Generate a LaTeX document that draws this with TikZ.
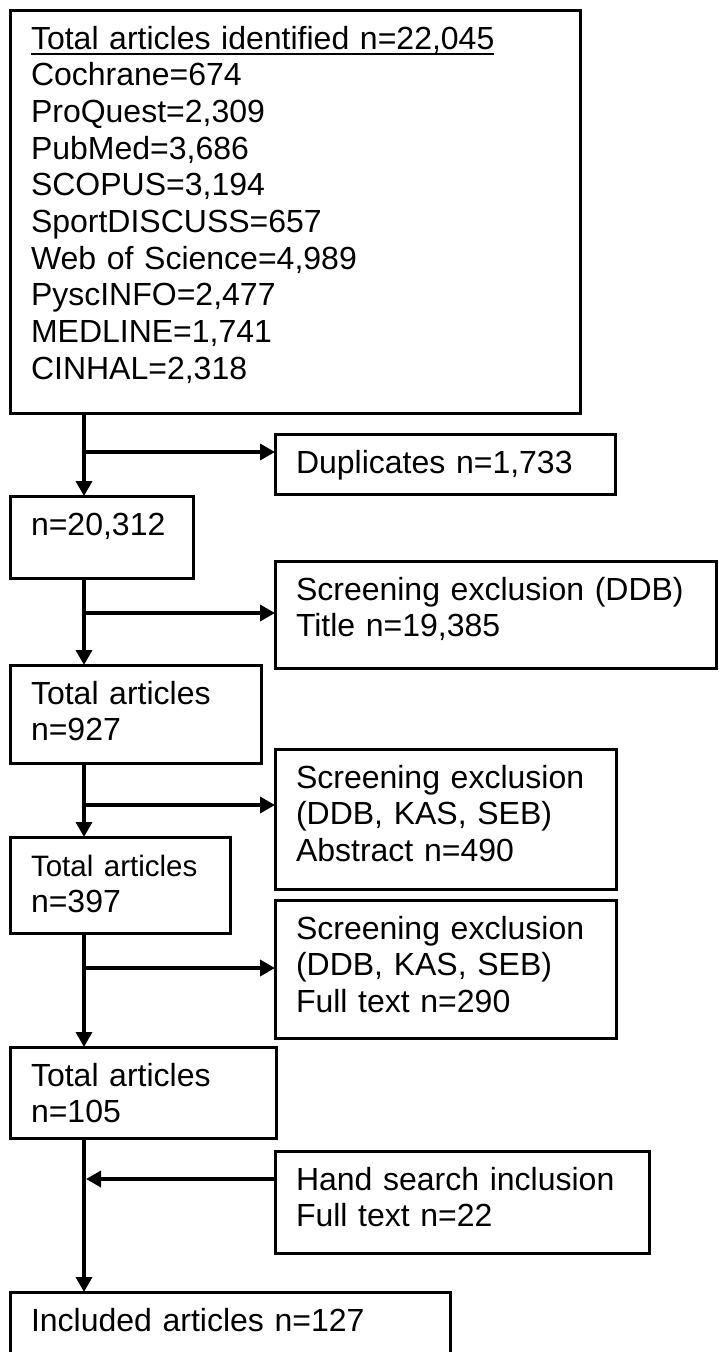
\documentclass[tikz,border=0pt]{standalone}
\usepackage{fontspec}
\setmainfont{Liberation Sans}
\usetikzlibrary{arrows.meta,calc}

\newcommand{\hdline}[1]{\setbox0=\hbox{#1}\rlap{\rule[-6pt]{\wd0}{2.5pt}}\box0}

\tikzset{
  box/.style={draw, line width=3pt, anchor=north west, inner xsep=21pt, inner ysep=0pt,
    outer sep=0pt, align=left, text height=39pt,
    font=\fontsize{32pt}{36.7pt}\selectfont},
  flow/.style={line width=3.5pt, -{Triangle[length=15pt,width=16pt]}}
}

\begin{document}
\begin{tikzpicture}[x=1pt,y=-1pt]

      \useasboundingbox (0,0) rectangle (719,1352);
      \clip (0,0) rectangle (719,1352);
      \fill[white] (0,0) rectangle (719,1352);

      \node[box, text width=528pt, text depth=364pt] (total) at (10,10)
        {\hdline{Total articles identified n=22,045}\\ Cochrane=674\\ ProQuest=2,309\\
         PubMed=3,686\\ SCOPUS=3,194\\ SportDISCUSS=657\\ Web of Science=4,989\\
         PyscINFO=2,477\\ MEDLINE=1,741\\ CINHAL=2,318};
      \node[box, text width=298pt, text depth=21pt] (dup) at (275,434) {Duplicates n=1,733};
      \node[box, text width=141pt, text depth=43pt] (n20) at (10,496) {n=20,312};
      \node[box, text width=399pt, text depth=68pt] (title) at (275,561)
        {Screening exclusion (DDB)\\ Title n=19,385};
      \node[box, text width=209pt, text depth=59pt] (n927) at (10,665) {Total articles\\ n=927};
      \node[box, text width=299pt, text depth=101pt] (abs) at (275,749)
        {Screening exclusion\\ (DDB, KAS, SEB)\\ Abstract n=490};
      \node[box, text width=178pt, text depth=57pt] (n397) at (10,837)
        {{\fontsize{29.5pt}{36.7pt}\selectfont Total articles}\\ n=397};
      \node[box, text width=299pt, text depth=99pt] (full) at (275,900)
        {Screening exclusion\\ (DDB, KAS, SEB)\\ Full text n=290};
      \node[box, text width=224pt, text depth=52pt] (n105) at (10,1047) {Total articles\\ n=105};
      \node[box, text width=332pt, text depth=63pt] (hand) at (275,1151)
        {Hand search inclusion\\ Full text n=22};
      \node[box, text width=398pt, text depth=41pt] (incl) at (10,1292) {Included articles n=127};

      % main line
      \coordinate (spine) at (84,0);
      \draw[flow] (total.south -| spine) -- (n20.north -| spine);
      \draw[flow] (n20.south -| spine) -- (n927.north -| spine);
      \draw[flow] (n927.south -| spine) -- (n397.north -| spine);
      \draw[flow] (n397.south -| spine) -- (n105.north -| spine);
      \draw[flow] (n105.south -| spine) -- (incl.north -| spine);

      % side branches
      \coordinate (c1) at (84,452);
      \coordinate (c2) at (84,613);
      \coordinate (c3) at (84,805);
      \coordinate (c4) at (84,968);
      \coordinate (c5) at (86,1179);
      \draw[flow] (c1) -- (c1 -| dup.west);
      \draw[flow] (c2) -- (c2 -| title.west);
      \draw[flow] (c3) -- (c3 -| abs.west);
      \draw[flow] (c4) -- (c4 -| full.west);
      \draw[flow] (c5 -| hand.west) -- (c5);

    \end{tikzpicture}
\end{document}
